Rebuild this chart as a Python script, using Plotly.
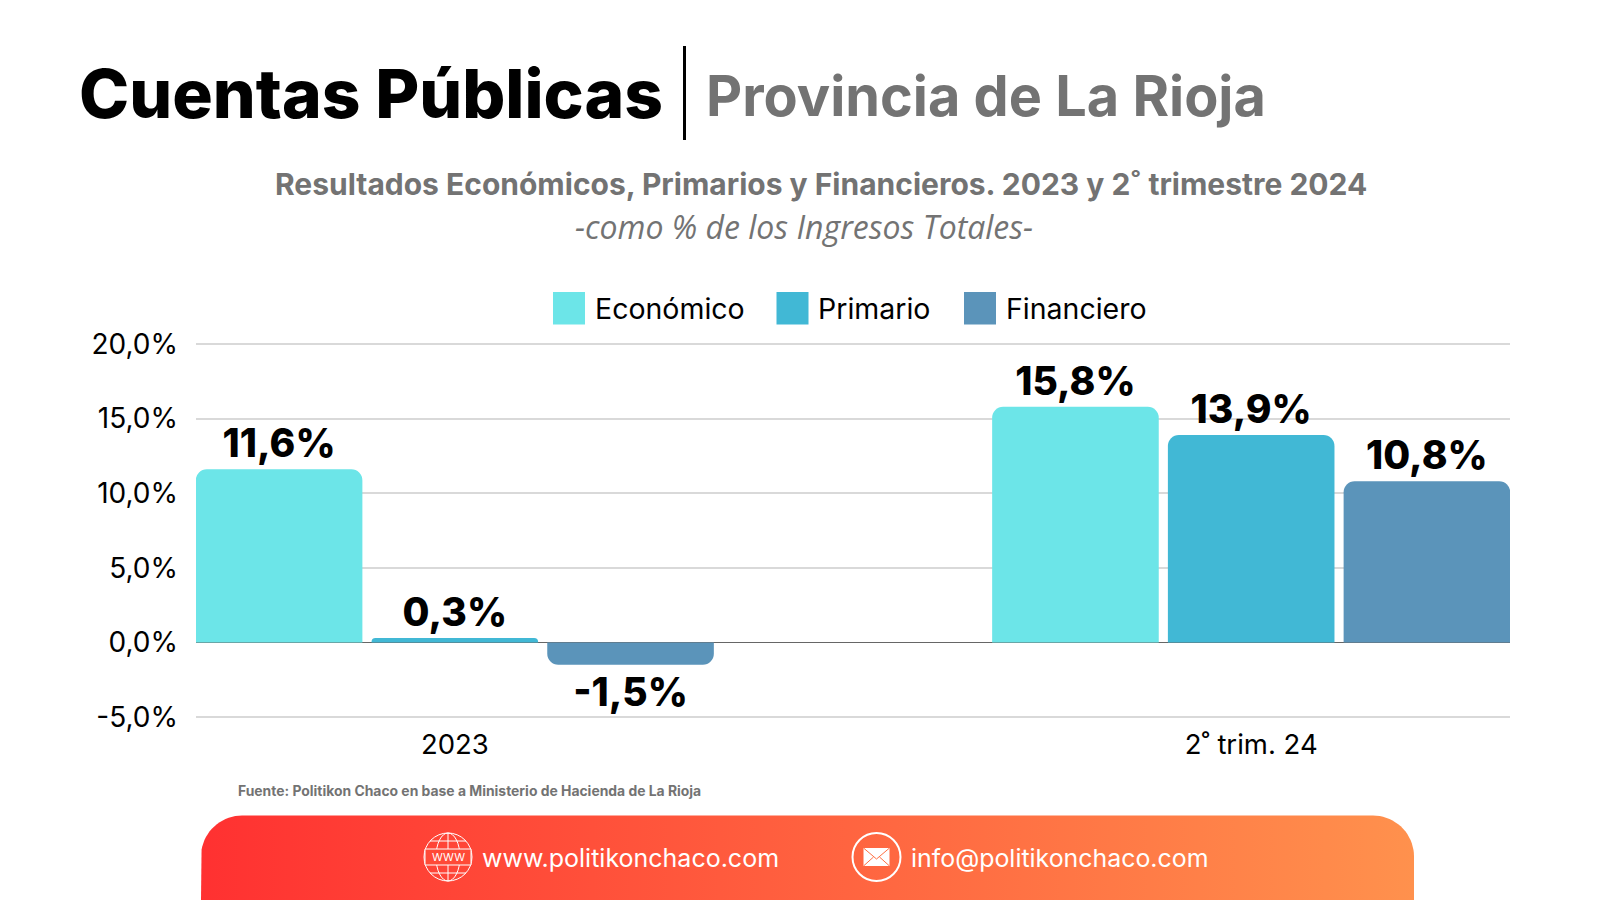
import numpy as np
import plotly.graph_objects as go

# data
categories = ["2023", "2˚ trim. 24"]
economico = [11.6, 15.8]
primario = [0.3, 13.9]
financiero = [-1.5, 10.8]
series_names = ["Económico", "Primario", "Financiero"]
series_colors = ["#6ce5e8", "#41b8d5", "#5b94ba"]
tick_vals = [-5, 0, 5, 10, 15, 20]
tick_labels = ["-5,0%", "0,0%", "5,0%", "10,0%", "15,0%", "20,0%"]

FONT = "Inter"
GREY = "#737373"

W, H = 1600, 900
# plot area in page pixels
LEFT, RIGHT, TOP, BOTTOM = 196, 1510, 342.5, 718.5

fig = go.Figure()

for name, vals, color in zip(series_names, [economico, primario, financiero], series_colors):
    fig.add_trace(go.Bar(
        x=categories, y=vals, name=name,
        marker=dict(color=color, cornerradius=11, line_width=0),
        texttemplate="%{y:.1f}%", textposition="outside", constraintext="none",
        cliponaxis=False, showlegend=False,
        textfont=dict(family=FONT, size=39, color="black", weight=800),
    ))


def rounded_band(x0, x1, top, bottom, r):
    # outline of the footer band, only the top corners are round
    t = np.linspace(0, np.pi / 2, 20)
    xs = [x0] + list(x0 + r - r * np.cos(t)) + list(x1 - r + r * np.sin(t)) + [x1, x0]
    ys = [bottom] + list(top + r - r * np.sin(t)) + list(top + r - r * np.cos(t)) + [bottom, bottom]
    return xs, ys


band_x, band_y = rounded_band(201, 1414, 815.5, 900, 41)
fig.add_trace(go.Scatter(
    x=band_x, y=band_y, xaxis="x2", yaxis="y2", mode="lines", line_width=0, fill="toself",
    fillgradient=dict(type="horizontal", colorscale=[[0, "#ff3131"], [1, "#ff914d"]]),
    hoverinfo="skip", showlegend=False,
))

shapes = []
annots = []


def text(x, y, s, size, color="black", weight=400, anchor="left", family=FONT, style="normal"):
    annots.append(dict(
        xref="x2", yref="y2", x=x, y=y, text=s, showarrow=False, xanchor=anchor, yanchor="middle",
        font=dict(family=family, size=size, color=color, weight=weight, style=style),
    ))


# header
text(77, 93, "Cuentas Públicas", 67.6, weight=800)
shapes.append(dict(type="line", xref="x2", yref="y2", x0=684.5, x1=684.5, y0=46, y1=140, line=dict(color="black", width=3)))
text(704, 95, "Provincia de La Rioja", 55.8, color=GREY, weight=700)
text(821, 184, "Resultados Económicos, Primarios y Financieros. 2023 y 2˚ trimestre 2024", 30, color=GREY,
     weight=700, anchor="center")
text(803.5, 226, "-como % de los Ingresos Totales-", 32, color=GREY, anchor="center", family="Open Sans", style="italic")

# legend
for name, color, sx, tx in zip(series_names, series_colors, [553, 776.5, 964], [593, 816, 1004]):
    shapes.append(dict(type="rect", xref="x2", yref="y2", x0=sx, x1=sx + 32, y0=292, y1=324.5,
                       fillcolor=color, line_width=0))
    text(tx, 308, name, 28.5)

# source and footer
text(235.5, 791, "Fuente: Politikon Chaco en base a Ministerio de Hacienda de La Rioja", 13.9, color=GREY, weight=700)
text(479.5, 858, "www.politikonchaco.com", 25, color="white")
text(909, 858, "info@politikonchaco.com", 24.9, color="white")

# globe icon
gx, gy, ir = 448, 857, 24
white_line = dict(color="white", width=1)
shapes.append(dict(type="circle", xref="x2", yref="y2", x0=gx - ir, x1=gx + ir, y0=gy - ir, y1=gy + ir, line=white_line))
shapes.append(dict(type="circle", xref="x2", yref="y2", x0=gx - 12, x1=gx + 12, y0=gy - ir, y1=gy + ir, line=white_line))
shapes.append(dict(type="line", xref="x2", yref="y2", x0=gx, x1=gx, y0=gy - ir, y1=gy + ir, line=white_line))
for dy in [-16, 16]:
    shapes.append(dict(type="line", xref="x2", yref="y2", x0=gx - 18, x1=gx + 18, y0=gy + dy, y1=gy + dy, line=white_line))
shapes.append(dict(type="rect", xref="x2", yref="y2", x0=gx - 23, x1=gx + 23, y0=gy - 8, y1=gy + 8, line=white_line,
                   fillcolor="#ff4a37"))
text(gx, gy, "WWW", 11, color="white", anchor="center")

# mail icon
mx, my = 876.5, 857
shapes.append(dict(type="circle", xref="x2", yref="y2", x0=mx - ir, x1=mx + ir, y0=my - ir, y1=my + ir,
                   line=dict(color="white", width=2)))
shapes.append(dict(type="rect", xref="x2", yref="y2", x0=mx - 13, x1=mx + 13, y0=my - 9, y1=my + 9,
                   fillcolor="white", line_width=0))
shapes.append(dict(type="path", xref="x2", yref="y2",
                   path=f"M{mx - 13},{my - 9} L{mx},{my + 2} L{mx + 13},{my - 9} M{mx - 13},{my + 9} L{mx - 3},{my} M{mx + 13},{my + 9} L{mx + 3},{my}",
                   line=dict(color="#ff6f43", width=1)))

fig.update_layout(
    width=W, height=H,
    margin=dict(l=0, r=0, t=0, b=0, autoexpand=False),
    # second subplot sits on top of the chart, so its background has to be see through
    paper_bgcolor="white", plot_bgcolor="rgba(0,0,0,0)",
    barmode="group", bargap=0.338, bargroupgap=0.052,
    font=dict(family=FONT),
    shapes=shapes, annotations=annots,
    xaxis=dict(
        domain=[LEFT / W, RIGHT / W], range=[-0.325, 1.325], type="category", automargin=False,
        showgrid=False, showline=False, ticks="", ticklabelstandoff=7,
        tickfont=dict(size=27.5, color="black"),
    ),
    yaxis=dict(
        # range a bit wider than the ticks, plotly drops gridlines that sit on the very edge
        domain=[1 - BOTTOM / H, 1 - TOP / H], range=[-5.1, 20.1], automargin=False,
        tickvals=tick_vals, ticktext=tick_labels, ticks="", ticklabelstandoff=17,
        tickfont=dict(size=28, color="black"),
        showgrid=True, gridcolor="#d9d9d9", gridwidth=1.5,
        zeroline=True, zerolinecolor="#666666", zerolinewidth=1,
    ),
    xaxis2=dict(domain=[0, 1], range=[0, W], anchor="y2", visible=False, fixedrange=True, automargin=False),
    yaxis2=dict(domain=[0, 1], range=[H, 0], anchor="x2", visible=False, fixedrange=True, automargin=False),
    separators=",.",
)

fig.write_html("out.html", config=dict(displayModeBar=False), post_script="document.body.style.margin='0';")
